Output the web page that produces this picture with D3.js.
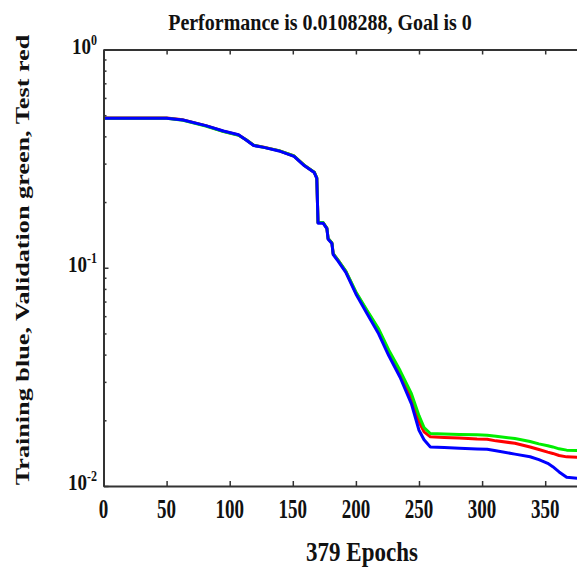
<!DOCTYPE html>
<html>
<head>
<meta charset="utf-8">
<script src="https://cdn.jsdelivr.net/npm/d3@7"></script>
<style>
  body { margin: 0; background: #fff; }
  svg { display: block; }
  .axis path, .axis line { stroke: #333; }
  .lbl { font-family: "Liberation Serif", "Times New Roman", serif; font-weight: bold; fill: #111; }
</style>
</head>
<body>
<div class="panel"></div>
<script>

// Data

const epochs = [0, 50, 63, 81, 95, 107, 113, 119, 127, 139, 151, 159, 167, 169, 170, 174, 177, 178, 181, 182,
    186, 192, 200, 209, 218, 226, 235, 244, 250, 254, 259, 270, 282, 296, 304, 311, 326, 338, 345, 352,
    356, 361, 367, 379];

const trainPerf = [0.484, 0.484, 0.475, 0.448, 0.423, 0.407, 0.385, 0.363, 0.356, 0.343, 0.324, 0.294, 0.273, 0.257,
    0.160, 0.160, 0.151, 0.135, 0.129, 0.115, 0.107, 0.0953, 0.0759, 0.0614, 0.0498, 0.0396, 0.0315, 0.0238,
    0.0180, 0.0163, 0.0151, 0.0150, 0.0149, 0.01478, 0.01473, 0.0145, 0.0140, 0.01362, 0.0132, 0.0127,
    0.01226, 0.0116, 0.01096, 0.0108];

const valPerf = [0.484, 0.484, 0.474, 0.446, 0.421, 0.405, 0.386, 0.364, 0.356, 0.344, 0.325, 0.295, 0.274, 0.258,
    0.161, 0.161, 0.152, 0.136, 0.130, 0.116, 0.108, 0.0965, 0.0775, 0.0635, 0.0525, 0.042, 0.0338, 0.0265,
    0.0210, 0.0185, 0.0174, 0.0173, 0.0172, 0.01715, 0.0171, 0.0169, 0.0165, 0.0160, 0.0156, 0.0153,
    0.0151, 0.0148, 0.0146, 0.0145];

const testPerf = [0.485, 0.485, 0.476, 0.448, 0.422, 0.406, 0.386, 0.364, 0.357, 0.344, 0.325, 0.295, 0.274, 0.258,
    0.161, 0.161, 0.152, 0.136, 0.130, 0.116, 0.108, 0.0962, 0.0770, 0.0630, 0.0518, 0.0412, 0.0330, 0.0255,
    0.0197, 0.0177, 0.0168, 0.0167, 0.0166, 0.0164, 0.01637, 0.0161, 0.0157, 0.0151, 0.0147, 0.0143,
    0.0141, 0.0138, 0.0136, 0.0135];

const xTicks = [0, 50, 100, 150, 200, 250, 300, 350];
const yMajor = [1, 0.1, 0.01];
const yExp = ["0", "-1", "-2"];

const titleText = "Performance is 0.0108288, Goal is 0";
const xLabelText = "379 Epochs";
const yLabelText = "Training blue, Validation green, Test red";

// Chart

const params = { width: 577, height: 568, left: 103.5, top: 49.5, bottom: 486 };

const svg = d3.select(".panel").append("svg")
    .attr("width", params.width)
    .attr("height", params.height);

const x = d3.scaleLinear()
    .domain([0, 379])
    .range([params.left, params.left + 379 * 1.262]);

const y = d3.scaleLog()
    .domain([0.01, 1])
    .range([params.bottom, params.top]);

svg.append("defs").append("clipPath").attr("id", "plot")
    .append("rect")
    .attr("x", params.left).attr("y", params.top)
    .attr("width", x(379) - params.left).attr("height", params.bottom - params.top);

const line = d3.line()
    .x(d => x(d[0]))
    .y(d => y(d[1]));

const series = [
    { values: testPerf, color: "#ff0000" },
    { values: valPerf, color: "#00ee00" },
    { values: trainPerf, color: "#0000ff" }
];

svg.append("g").attr("clip-path", "url(#plot)")
    .selectAll("path")
    .data(series)
    .enter().append("path")
    .attr("fill", "none")
    .attr("stroke", d => d.color)
    .attr("stroke-width", 3)
    .attr("stroke-linejoin", "round")
    .attr("d", d => line(epochs.map((e, i) => [e, d.values[i]])));

// axes

const minor = [];
[0.01, 0.1].forEach(b => { for (let k = 2; k <= 9; k++) minor.push(b * k); });

svg.append("g").attr("class", "axis")
    .attr("transform", `translate(0,${params.bottom})`)
    .call(d3.axisBottom(x).tickValues(xTicks).tickSize(-5).tickSizeOuter(0).tickFormat(""));

svg.append("g").attr("class", "axis")
    .attr("transform", `translate(0,${params.top})`)
    .call(d3.axisTop(x).tickValues(xTicks).tickSize(-5).tickSizeOuter(0).tickFormat(""));

svg.append("g").attr("class", "axis")
    .attr("transform", `translate(${params.left},0)`)
    .call(d3.axisLeft(y).tickValues(minor).tickSize(-3).tickSizeOuter(0).tickFormat(""));

svg.append("g").attr("class", "axis")
    .attr("transform", `translate(${params.left},0)`)
    .call(d3.axisLeft(y).tickValues(yMajor).tickSize(-5).tickSizeOuter(0).tickFormat(""));

svg.selectAll(".axis path.domain").attr("stroke-width", 2);
svg.selectAll(".axis line").attr("stroke-width", 1.5);

// tick labels

svg.selectAll(".xtick")
    .data(xTicks)
    .enter().append("text")
    .attr("class", "lbl")
    .attr("text-anchor", "middle")
    .attr("font-size", 19)
    .attr("transform", d => `translate(${x(d)},${params.bottom + 32}) scale(1,1.4)`)
    .text(d => d);

const yt = svg.selectAll(".ytick")
    .data(yMajor)
    .enter().append("text")
    .attr("class", "lbl")
    .attr("text-anchor", "end")
    .attr("font-size", 19)
    .attr("transform", d => `translate(97,${y(d) + 4}) scale(1,1.25)`);
yt.append("tspan").text("10");
yt.append("tspan").attr("dy", -7).attr("font-size", 12).text((d, i) => yExp[i]);

// titles

svg.append("text").attr("class", "lbl")
    .attr("text-anchor", "middle")
    .attr("font-size", 20)
    .attr("transform", "translate(320,30) scale(1,1.2)")
    .text(titleText);

svg.append("text").attr("class", "lbl")
    .attr("text-anchor", "middle")
    .attr("font-size", 23)
    .attr("transform", "translate(362,561) scale(1,1.2)")
    .text(xLabelText);

svg.append("text").attr("class", "lbl")
    .attr("text-anchor", "middle")
    .attr("font-size", 19)
    .attr("transform", "translate(29,260) rotate(-90) scale(1.38,1)")
    .text(yLabelText);

</script>
</body>
</html>
